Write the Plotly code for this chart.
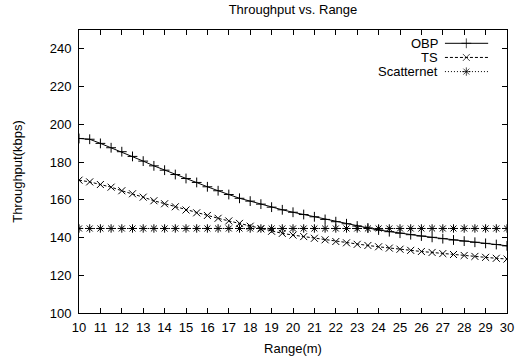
import plotly.graph_objects as go

range_m = [10, 10.5, 11, 11.5, 12, 12.5, 13, 13.5, 14, 14.5, 15, 15.5, 16, 16.5, 17, 17.5,
           18, 18.5, 19, 19.5, 20, 20.5, 21, 21.5, 22, 22.5, 23, 23.5, 24, 24.5, 25, 25.5,
           26, 26.5, 27, 27.5, 28, 28.5, 29, 29.5, 30]

obp = [192.5, 192.1, 189.9, 187.6, 185.5, 183.0, 180.5, 178.0, 175.7, 173.4, 171.3, 169.2,
       166.9, 164.8, 162.8, 160.8, 159.3, 157.7, 156.1, 154.7, 153.4, 152.2, 151.0, 149.6,
       148.4, 147.3, 146.1, 145.1, 144.0, 143.1, 142.3, 141.5, 140.8, 140.1, 139.4, 138.7,
       138.1, 137.5, 136.9, 136.3, 135.6]

ts = [170.4, 169.5, 168.1, 166.7, 164.8, 163.2, 161.4, 159.5, 157.9, 156.3, 154.6, 153.1,
      151.7, 150.2, 148.8, 147.5, 146.0, 144.6, 143.3, 142.2, 141.3, 140.5, 139.6, 138.8,
      137.9, 137.2, 136.4, 135.8, 135.1, 134.4, 133.8, 133.2, 132.6, 132.1, 131.5, 131.0,
      130.5, 130.0, 129.5, 129.0, 128.6]

scatternet = [144.8, 144.8, 144.8, 144.8, 144.8, 144.8, 144.8, 144.8, 144.8, 144.8, 144.8,
              144.8, 144.8, 144.8, 144.8, 144.8, 144.8, 144.8, 144.8, 144.8, 144.8, 144.8,
              144.8, 144.8, 144.8, 144.8, 144.8, 144.8, 144.8, 144.8, 144.8, 144.8, 144.8,
              144.8, 144.8, 144.8, 144.8, 144.8, 144.8, 144.8, 144.8]

series_names = ["OBP", "TS", "Scatternet"]
x_ticks = list(range(10, 31))
y_ticks = [100, 120, 140, 160, 180, 200, 220, 240]

FONT = "Liberation Sans, Arial, sans-serif"
FS = 13

styles = [
    dict(dash="solid", symbol="cross-thin-open"),
    dict(dash="3px,2px", symbol="x-thin-open"),
    dict(dash="1px,2px", symbol="asterisk-open"),
]

fig = go.Figure()
for name, ys, st in zip(series_names, [obp, ts, scatternet], styles):
    fig.add_trace(go.Scatter(
        x=range_m, y=ys, name=name, mode="lines+markers",
        line=dict(color="black", width=1, dash=st["dash"]),
        marker=dict(symbol=st["symbol"], size=7, color="black",
                    line=dict(color="black", width=1)),
        showlegend=False,
    ))

# custom gnuplot-style key (text right-aligned, sample on the right)
key_rows = [0.953, 0.903, 0.853]
for name, st, ky in zip(series_names, styles, key_rows):
    fig.add_trace(go.Scatter(
        x=[0.855, 0.905, 0.956], y=[ky, ky, ky], xaxis="x2", yaxis="y2",
        mode="lines+markers",
        line=dict(color="black", width=1, dash=st["dash"]),
        marker=dict(symbol=st["symbol"], size=[0, 7, 0], color="black",
                    line=dict(color="black", width=1)),
        showlegend=False, hoverinfo="skip",
    ))
    fig.add_annotation(x=0.843, y=ky, xref="x2", yref="y2", text=name,
                       showarrow=False, xanchor="right", yanchor="middle",
                       font=dict(family=FONT, size=FS, color="black"))

fig.update_layout(
    width=519, height=362,
    margin=dict(l=79, r=12, t=30, b=49),
    paper_bgcolor="white", plot_bgcolor="white",
    font=dict(family=FONT, size=FS, color="black"),
    title=dict(text="Throughput vs. Range", x=0.5, xref="paper", xanchor="center",
               y=0.975, yref="container", yanchor="middle",
               font=dict(family=FONT, size=FS, color="black")),
    showlegend=False,
    xaxis=dict(range=[10, 30], tickvals=x_ticks, ticktext=[str(v) for v in x_ticks],
               ticks="inside", ticklen=5, tickcolor="black", tickwidth=1,
               ticklabelstandoff=2,
               showline=True, linecolor="black", linewidth=1, mirror="allticks",
               showgrid=False, zeroline=False, automargin=False,
               title=dict(text="Range(m)", standoff=10, font=dict(size=FS))),
    yaxis=dict(range=[100, 250], tickvals=y_ticks, ticktext=[str(v) for v in y_ticks],
               ticks="inside", ticklen=5, tickcolor="black", tickwidth=1,
               ticklabelstandoff=4,
               showline=True, linecolor="black", linewidth=1, mirror="allticks",
               showgrid=False, zeroline=False, automargin=False,
               title=dict(text="Throughput(kbps)", standoff=24, font=dict(size=FS))),
    xaxis2=dict(overlaying="x", range=[0, 1], visible=False, fixedrange=True),
    yaxis2=dict(overlaying="y", range=[0, 1], visible=False, fixedrange=True),
)

fig.write_html("out.html")
